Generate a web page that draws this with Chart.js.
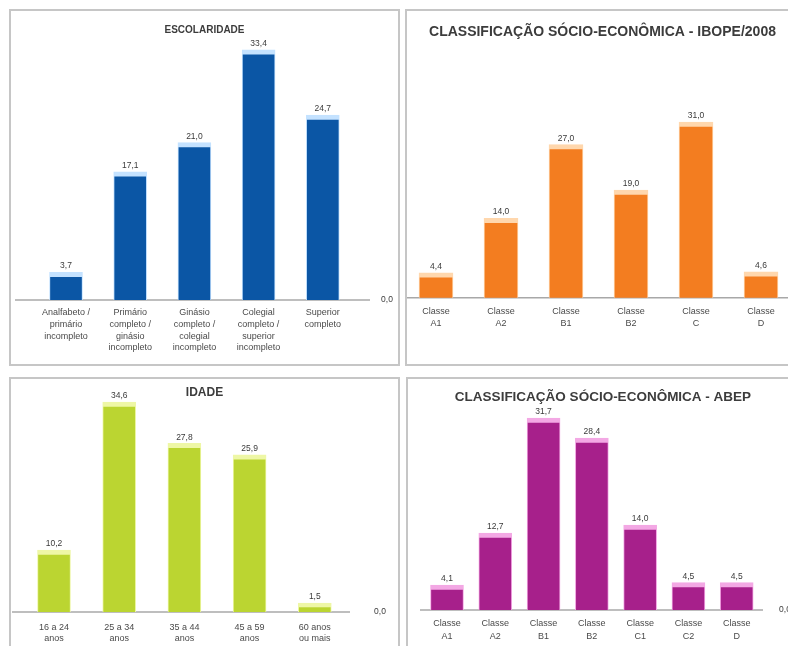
<!DOCTYPE html>
<html><head><meta charset="utf-8">
<script src="https://cdn.jsdelivr.net/npm/chart.js@4.4.1/dist/chart.umd.min.js"></script>
<style>
html,body{margin:0;padding:0;width:788px;height:646px;overflow:hidden;background:#fff;}
.panel{position:absolute;box-sizing:border-box;border:2px solid #c6c6c6;background:#fff;}
.panel canvas{display:block;}
</style></head><body>
<div class="panel" style="left:9px;top:9px;width:391px;height:357px"><canvas id="c1" width="387" height="353"></canvas></div>
<div class="panel" style="left:405px;top:9px;width:395px;height:357px"><canvas id="c2" width="391" height="353"></canvas></div>
<div class="panel" style="left:9px;top:377px;width:391px;height:290px"><canvas id="c3" width="387" height="286"></canvas></div>
<div class="panel" style="left:406px;top:377px;width:394px;height:290px"><canvas id="c4" width="390" height="286"></canvas></div>
<script>
// ---- DATA ----
const escolaridadeTitulo = "ESCOLARIDADE";
const escolaridadeCategorias = [
  ["Analfabeto /", "primário", "incompleto"],
  ["Primário", "completo /", "ginásio", "incompleto"],
  ["Ginásio", "completo /", "colegial", "incompleto"],
  ["Colegial", "completo /", "superior", "incompleto"],
  ["Superior", "completo"],
  ""
];
const escolaridadeValores = [3.7, 17.1, 21.0, 33.4, 24.7, 0.0];

const classeIbopeTitulo = "CLASSIFICAÇÃO SÓCIO-ECONÔMICA - IBOPE/2008";
const classeIbopeCategorias = [
  ["Classe", "A1"], ["Classe", "A2"], ["Classe", "B1"],
  ["Classe", "B2"], ["Classe", "C"], ["Classe", "D"]
];
const classeIbopeValores = [4.4, 14.0, 27.0, 19.0, 31.0, 4.6];

const idadeTitulo = "IDADE";
const idadeCategorias = [
  ["16 a 24", "anos"], ["25 a 34", "anos"], ["35 a 44", "anos"],
  ["45 a 59", "anos"], ["60 anos", "ou mais"], ""
];
const idadeValores = [10.2, 34.6, 27.8, 25.9, 1.5, 0.0];

const classeAbepTitulo = "CLASSIFICAÇÃO SÓCIO-ECONÔMICA - ABEP";
const classeAbepCategorias = [
  ["Classe", "A1"], ["Classe", "A2"], ["Classe", "B1"], ["Classe", "B2"],
  ["Classe", "C1"], ["Classe", "C2"], ["Classe", "D"], ""
];
const classeAbepValores = [4.1, 12.7, 31.7, 28.4, 14.0, 4.5, 4.5, 0.0];

// ---- PLUGINS ----
const FONT = "'Liberation Sans', Arial, sans-serif";
const fmt = v => v.toFixed(1).replace('.', ',');

const axisLine = {
  id: 'axisLine',
  beforeDatasetsDraw(chart, args, o) {
    const ctx = chart.ctx, y = chart.scales.y.getPixelForValue(0);
    ctx.save();
    ctx.strokeStyle = o.color; ctx.lineWidth = o.width;
    ctx.beginPath(); ctx.moveTo(o.from, y); ctx.lineTo(o.to, y); ctx.stroke();
    ctx.restore();
  }
};
const valueLabels = {
  id: 'valueLabels',
  afterDatasetsDraw(chart, args, o) {
    const ctx = chart.ctx, meta = chart.getDatasetMeta(0), data = chart.data.datasets[0].data;
    ctx.save();
    ctx.font = "8.5px " + FONT; ctx.fillStyle = "#3a3a3a"; ctx.textAlign = 'center';
    meta.data.forEach((bar, i) => {
      const v = data[i];
      if (v > 0) { ctx.textBaseline = 'bottom'; ctx.fillText(fmt(v), bar.x, bar.y - 2); }
      else { ctx.textBaseline = 'middle'; ctx.fillText(fmt(v), bar.x, bar.base); }
    });
    ctx.restore();
  }
};
const centerTitle = {
  id: 'centerTitle',
  afterDraw(chart, args, o) {
    const ctx = chart.ctx;
    ctx.save();
    ctx.font = "bold " + o.size + "px " + FONT; ctx.fillStyle = '#3c3c3c';
    ctx.textAlign = 'center'; ctx.textBaseline = 'middle';
    ctx.fillText(o.text, chart.width / 2, o.y);
    ctx.restore();
  }
};

function makeChart(id, p) {
  return new Chart(document.getElementById(id), {
    type: 'bar',
    data: {
      labels: p.labels,
      datasets: [{
        data: p.values,
        backgroundColor: p.fill,
        borderColor: p.cap,
        borderWidth: { top: 5, left: 1, right: 1, bottom: 0 },
        borderSkipped: 'start',
        barThickness: p.thickness,
        clip: false
      }]
    },
    options: {
      responsive: false,
      animation: false,
      layout: { padding: { left: p.padL, right: p.padR, top: p.padT, bottom: p.padB } },
      plugins: {
        legend: { display: false },
        tooltip: { enabled: false },
        title: { display: false },
        centerTitle: { text: p.title, size: p.titleSize, y: p.titleY },
        axisLine: { from: p.lineFrom, to: p.lineTo, color: '#a8a8a8', width: 1.5 }
      },
      scales: {
        x: {
          offset: false,
          grid: { display: false, drawTicks: false },
          border: { display: false },
          ticks: {
            autoSkip: false, maxRotation: 0, minRotation: 0,
            padding: p.tickPad, color: '#4a4a4a',
            font: { family: FONT, size: 9, lineHeight: p.lineH }
          }
        },
        y: { display: false, min: 0, max: p.ymax }
      }
    },
    plugins: [axisLine, valueLabels, centerTitle]
  });
}

makeChart('c1', {
  labels: escolaridadeCategorias, values: escolaridadeValores, title: escolaridadeTitulo,
  fill: '#0b56a5', cap: '#c4e2ff', thickness: 33,
  padL: 55, padR: 11, padT: 35, padB: 4, titleSize: 10, titleY: 19,
  tickPad: 6, lineH: 1.33, ymax: 33.9, lineFrom: 4, lineTo: 359
});
makeChart('c2', {
  labels: classeIbopeCategorias, values: classeIbopeValores, title: classeIbopeTitulo,
  fill: '#f37d20', cap: '#ffd7ad', thickness: 34,
  padL: 29, padR: 37, padT: 35, padB: 27, titleSize: 14, titleY: 21,
  tickPad: 7, lineH: 1.4, ymax: 44.4, lineFrom: 0, lineTo: 391
});
makeChart('c3', {
  labels: idadeCategorias, values: idadeValores, title: idadeTitulo,
  fill: '#bbd531', cap: '#eef7a6', thickness: 33,
  padL: 43, padR: 18, padT: 25, padB: 11, titleSize: 12, titleY: 14,
  tickPad: 9, lineH: 1.33, ymax: 34.3, lineFrom: 1, lineTo: 339
});
makeChart('c4', {
  labels: classeAbepCategorias, values: classeAbepValores, title: classeAbepTitulo,
  fill: '#a7208b', cap: '#f3a8e4', thickness: 33,
  padL: 39, padR: 13, padT: 30, padB: 15, titleSize: 13.5, titleY: 18,
  tickPad: 7, lineH: 1.45, ymax: 33.2, lineFrom: 12, lineTo: 355
});
</script>
</body></html>
